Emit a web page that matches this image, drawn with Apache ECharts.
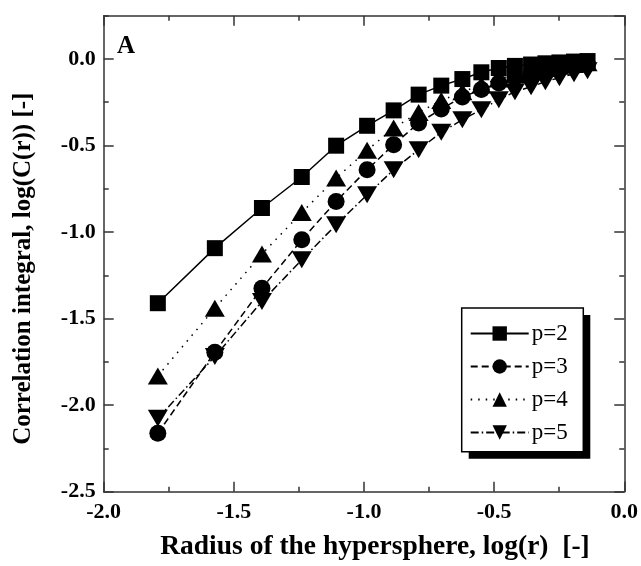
<!DOCTYPE html>
<html>
<head>
<meta charset="utf-8">
<script src="https://cdn.jsdelivr.net/npm/echarts@6/dist/echarts.min.js"></script>
<style>
html,body{margin:0;padding:0;background:#fff;}
#chart{width:641px;height:566px;}
</style>
</head>
<body>
<div id="chart"></div>
<script>
// log(r) values shared by all series
const logR = [-1.792, -1.573, -1.392, -1.239, -1.107, -0.988, -0.886, -0.790, -0.703, -0.622, -0.549, -0.482, -0.420, -0.358, -0.303, -0.249, -0.193, -0.141];
// log(C(r)) for each embedding dimension p
const p2 = [-1.411, -1.093, -0.861, -0.682, -0.501, -0.386, -0.297, -0.206, -0.154, -0.116, -0.077, -0.052, -0.040, -0.032, -0.025, -0.020, -0.015, -0.012];
const p3 = [-2.162, -1.694, -1.324, -1.045, -0.823, -0.640, -0.495, -0.370, -0.289, -0.220, -0.177, -0.139, -0.105, -0.085, -0.065, -0.050, -0.040, -0.030];
const p4 = [-1.831, -1.440, -1.127, -0.887, -0.688, -0.528, -0.399, -0.309, -0.240, -0.190, -0.150, -0.115, -0.090, -0.070, -0.055, -0.042, -0.032, -0.022];
const p5 = [-2.076, -1.719, -1.401, -1.160, -0.958, -0.785, -0.640, -0.524, -0.424, -0.351, -0.293, -0.235, -0.189, -0.160, -0.131, -0.108, -0.085, -0.068];
const seriesNames = ['p=2', 'p=3', 'p=4', 'p=5'];
const xTitle = 'Radius of the hypersphere, log(r)  [-]';
const yTitle = 'Correlation integral, log(C(r)) [-]';

const FONT = '"Liberation Serif", "Times New Roman", serif';
const AX = '#333';

function pairs(ys) { return logR.map((x, i) => [x, ys[i]]); }

const chart = echarts.init(document.getElementById('chart'), null, {renderer: 'canvas'});

const baseLine = {show: true, onZero: false, lineStyle: {color: AX, width: 1.5}};
const noLine = {show: false, onZero: false};

const option = {
  backgroundColor: '#fff',
  animation: false,
  grid: {left: 103.7, right: 16, top: 15.7, bottom: 74.3},
  xAxis: [
    {
      type: 'value', position: 'bottom', min: -2, max: 0, interval: 0.5,
      axisLine: baseLine,
      axisTick: {show: true, inside: true, length: 10, lineStyle: {color: AX, width: 1.5}},
      minorTick: {show: true, splitNumber: 2, length: 5, lineStyle: {color: AX, width: 1.5}},
      splitLine: {show: false},
      axisLabel: {fontFamily: FONT, fontWeight: 'bold', fontSize: 22, color: '#000', margin: 10,
        formatter: v => v.toFixed(1)},
      name: xTitle, nameLocation: 'middle', nameGap: 41,
      nameTextStyle: {fontFamily: FONT, fontWeight: 'bold', fontSize: 27.5, color: '#000', padding: [0, 0, 0, 22]}
    },
    {
      type: 'value', position: 'top', min: -2, max: 0, interval: 0.5,
      axisLine: baseLine,
      axisTick: {show: true, inside: true, length: 10, lineStyle: {color: AX, width: 1.5}},
      minorTick: {show: true, splitNumber: 2, length: 5, lineStyle: {color: AX, width: 1.5}},
      splitLine: {show: false}, axisLabel: {show: false}
    }
  ],
  yAxis: [
    {
      type: 'value', position: 'left', min: -2.5, max: 0.25, interval: 0.5,
      axisLine: baseLine,
      axisTick: {show: true, inside: true, length: 10, lineStyle: {color: AX, width: 1.5}},
      splitLine: {show: false},
      axisLabel: {fontFamily: FONT, fontWeight: 'bold', fontSize: 22, color: '#000', margin: 8,
        showMaxLabel: false, formatter: v => v.toFixed(1)},
      name: yTitle, nameLocation: 'middle', nameGap: 68,
      nameTextStyle: {fontFamily: FONT, fontWeight: 'bold', fontSize: 25, color: '#000', padding: [0, 30, 0, 0]}
    },
    {
      type: 'value', position: 'left', min: -2.5, max: 0.25, interval: 0.25,
      axisLine: noLine,
      axisTick: {show: true, inside: true, length: 5, lineStyle: {color: AX, width: 1.5}},
      splitLine: {show: false}, axisLabel: {show: false}
    },
    {
      type: 'value', position: 'right', min: -2.5, max: 0.25, interval: 0.5,
      axisLine: baseLine,
      axisTick: {show: true, inside: true, length: 10, lineStyle: {color: AX, width: 1.5}},
      splitLine: {show: false}, axisLabel: {show: false}
    },
    {
      type: 'value', position: 'right', min: -2.5, max: 0.25, interval: 0.25,
      axisLine: noLine,
      axisTick: {show: true, inside: true, length: 5, lineStyle: {color: AX, width: 1.5}},
      splitLine: {show: false}, axisLabel: {show: false}
    }
  ],
  legend: {
    orient: 'vertical',
    left: 461.7, top: 308,
    padding: [14, 12, 12, 8],
    itemGap: 10,
    itemWidth: 58, itemHeight: 18,
    z: 10,
    textStyle: {fontFamily: FONT, fontSize: 23, color: '#000', padding: [0, 0, 0, -2], lineHeight: 21},
    data: seriesNames
  },
  graphic: [
    {type: 'rect', z: 5, shape: {x: 468.7, y: 315, width: 121.6, height: 143.7},
      style: {fill: '#000'}},
    {type: 'rect', z: 6, shape: {x: 461.7, y: 308, width: 121.6, height: 143.7},
      style: {fill: '#fff', stroke: '#000', lineWidth: 1.5}},
    {type: 'text', left: 117, top: 34, z: 6,
      style: {text: 'A', font: 'bold 25px "Liberation Serif", serif', fill: '#000'}}
  ],
  series: [
    {name: seriesNames[0], type: 'line', data: pairs(p2), symbol: 'rect', symbolSize: 16,
      lineStyle: {color: '#000', width: 1.5, type: 'solid'}, itemStyle: {color: '#000'}},
    {name: seriesNames[1], type: 'line', data: pairs(p3), symbol: 'circle', symbolSize: 17,
      lineStyle: {color: '#000', width: 1.5, type: [7, 4]}, itemStyle: {color: '#000'}},
    {name: seriesNames[2], type: 'line', data: pairs(p4), symbol: 'triangle', symbolSize: [20, 17],
      lineStyle: {color: '#000', width: 1.5, type: [1.5, 6]}, itemStyle: {color: '#000'}},
    {name: seriesNames[3], type: 'line', data: pairs(p5), symbol: 'triangle', symbolRotate: 180, symbolSize: [20, 17],
      lineStyle: {color: '#000', width: 1.5, type: [8, 3, 1.5, 3]}, itemStyle: {color: '#000'}}
  ]
};
chart.setOption(option);
</script>
</body>
</html>
